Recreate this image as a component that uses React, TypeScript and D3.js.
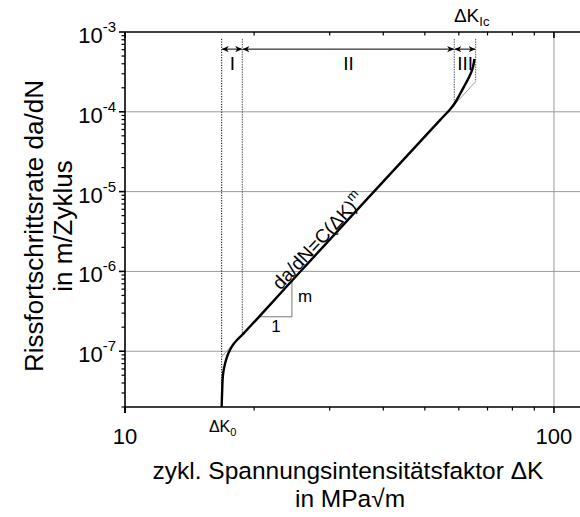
import React from 'react';
import * as d3 from 'd3';

const W = 580;
const H = 517;
const FONT = '"Liberation Sans", Arial, Helvetica, sans-serif';

// axis domains
const kDomain: [number, number] = [10, 115];
const rateDomain: [number, number] = [2e-8, 1e-3];

// tick labels
const xMajorTicks = [10, 100];
const xMajorLabels = ['10', '100'];
const yMajorTicks = [1e-7, 1e-6, 1e-5, 1e-4, 1e-3];
const yExponents = ['-7', '-6', '-5', '-4', '-3'];
const xGridValues = [100];
const yGridValues = [1e-7, 1e-6, 1e-5, 1e-4];

// crack growth curve (ΔK in MPa√m, da/dN in m/cycle)
const curveK = [16.8, 16.85, 16.92, 17.1, 17.39, 17.77, 18.24, 18.84, 25.58, 54.24, 57.23, 58.78, 60.39, 62.0, 63.47, 64.63, 65.26];
const curveRate = [2.0e-8, 3.27e-8, 5.04e-8, 6.92e-8, 9.22e-8, 1.16e-7, 1.38e-7, 1.64e-7, 9.83e-7, 7.88e-5, 1.07e-4, 1.29e-4, 1.67e-4, 2.17e-4, 2.75e-4, 3.51e-4, 4.59e-4];

// Paris line (thin grey extension)
const parisK = [16.8, 65.69];
const parisRate = [8.55e-8, 2.39e-4];

// region boundaries
const boundK = [16.8, 18.77, 58.56, 65.69];
const boundBottom = [2e-8, 1.64e-7, 1.29e-4, 2.39e-4];
const boundTop = 8.2e-4;
const arrowRate = 6.1e-4;
const regionLabels = ['I', 'II', 'III'];
const regionLabelK = [17.8, 33.2, 62.1];
const regionLabelRate = 3.3e-4;

// slope triangle
const triK = [20.5, 24.5];
const triRate = [2.7e-7, 7.7e-7];
const triLabelM = { k: 26.3, rate: 4.1e-7 };
const triLabel1 = { k: 22.5, rate: 1.75e-7 };

// Paris law label anchor
const parisLabelK = 23.3;
const parisLabelRate = 5.4e-7;

export default function App() {
  const x = d3.scaleLog().domain(kDomain).range([125, 580]);
  const y = d3.scaleLog().domain(rateDomain).range([407, 32]);
  const x0 = 125, y0 = 407, yTop = 32, xRight = 580;

  const isPow10 = (v: number) => Math.abs(Math.log10(v) - Math.round(Math.log10(v))) < 1e-6;
  const xMinor = x.ticks().filter(v => v > 10 && v < 100 && !isPow10(v));
  const yMinor = y.ticks().filter(v => !isPow10(v));

  const pts: [number, number][] = curveK.map((k, i) => [x(k), y(curveRate[i])]);
  const line = d3.line().curve(d3.curveCatmullRom.alpha(0.5));
  const curvePath = line(pts) || '';

  const parisPts: [number, number][] = parisK.map((k, i) => [x(k), y(parisRate[i])]);
  const angle = Math.atan2(parisPts[1][1] - parisPts[0][1], parisPts[1][0] - parisPts[0][0]) * 180 / Math.PI;

  const ay = y(arrowRate);

  return (
    <svg width={W} height={H} style={{ position: 'absolute', left: 0, top: 0, background: '#fff' }} fontFamily={FONT}>
      <defs>
        <marker id="ah" viewBox="0 0 10 10" refX="9.5" refY="5" markerWidth="7" markerHeight="7" orient="auto-start-reverse" markerUnits="userSpaceOnUse">
          <path d="M0,0.5 L10,5 L0,9.5 L3,5 Z" fill="#000" />
        </marker>
      </defs>

      {/* grid */}
      {yGridValues.map(v => (
        <line key={'gy' + v} x1={x0} x2={xRight} y1={y(v)} y2={y(v)} stroke="#9a9a9a" strokeWidth={1} />
      ))}
      {xGridValues.map(v => (
        <line key={'gx' + v} x1={x(v)} x2={x(v)} y1={yTop} y2={y0} stroke="#9a9a9a" strokeWidth={1} />
      ))}

      {/* region boundary lines */}
      {boundK.map((k, i) => (
        <line key={'b' + i} x1={x(k)} x2={x(k)} y1={y(boundTop)} y2={y(boundBottom[i])}
          stroke={i === 0 ? '#000' : '#555'} strokeWidth={1} strokeDasharray={i === 0 ? '1.2,1.4' : '1.5,1'} />
      ))}

      {/* arrows */}
      {boundK.slice(0, 3).map((k, i) => (
        <line key={'a' + i} x1={x(k) + 0.5} x2={x(boundK[i + 1]) - 0.5} y1={ay} y2={ay} stroke="#000" strokeWidth={1}
          markerStart="url(#ah)" markerEnd="url(#ah)" />
      ))}
      {regionLabels.map((t, i) => (
        <text key={'rl' + i} x={x(regionLabelK[i])} y={y(regionLabelRate)} fontSize={19} textAnchor="middle">{t}</text>
      ))}

      {/* Paris line extension */}
      <line x1={parisPts[0][0]} y1={parisPts[0][1]} x2={parisPts[1][0]} y2={parisPts[1][1]} stroke="#999" strokeWidth={1} />

      {/* slope triangle */}
      <polyline points={`${x(triK[0])},${y(triRate[0])} ${x(triK[1])},${y(triRate[0])} ${x(triK[1])},${y(triRate[1])}`}
        fill="none" stroke="#777" strokeWidth={1} />
      <text x={x(triLabelM.k)} y={y(triLabelM.rate)} fontSize={17} textAnchor="middle">m</text>
      <text x={x(triLabel1.k)} y={y(triLabel1.rate)} fontSize={17} textAnchor="middle">1</text>

      {/* main curve */}
      <path d={curvePath} fill="none" stroke="#000" strokeWidth={2.4} strokeLinejoin="round" />

      {/* Paris law label */}
      <text transform={`translate(${x(parisLabelK)},${y(parisLabelRate)}) rotate(${angle}) translate(0,-2.8)`} fontSize={19}>
        da/dN=C(ΔK)<tspan dy={-8} fontSize={13}>m</tspan>
      </text>

      {/* axes */}
      <line x1={x0} x2={xRight} y1={y0} y2={y0} stroke="#000" strokeWidth={1.6} />
      <line x1={x0} x2={xRight} y1={yTop} y2={yTop} stroke="#000" strokeWidth={1.6} />
      <line x1={x0} x2={x0} y1={yTop} y2={y0 + 6} stroke="#000" strokeWidth={1.6} />

      {xMinor.map(v => (
        <g key={'xm' + v}>
          <line x1={x(v)} x2={x(v)} y1={y0} y2={y0 + 3.5} stroke="#000" strokeWidth={1.2} />
          <line x1={x(v)} x2={x(v)} y1={yTop} y2={yTop + 3.5} stroke="#000" strokeWidth={1.2} />
        </g>
      ))}
      {xMajorTicks.map((v, i) => (
        <g key={'xM' + v}>
          <line x1={x(v)} x2={x(v)} y1={y0} y2={y0 + 6} stroke="#000" strokeWidth={1.6} />
          <line x1={x(v)} x2={x(v)} y1={yTop} y2={yTop + 6} stroke="#000" strokeWidth={1.6} />
          <text x={x(v)} y={y0 + 37} fontSize={22} textAnchor="middle">{xMajorLabels[i]}</text>
        </g>
      ))}
      {yMinor.map(v => (
        <line key={'ym' + v} x1={x0 - 3.5} x2={x0} y1={y(v)} y2={y(v)} stroke="#000" strokeWidth={1.2} />
      ))}
      {yMajorTicks.map((v, i) => (
        <g key={'yM' + v}>
          <line x1={x0 - 6} x2={x0} y1={y(v)} y2={y(v)} stroke="#000" strokeWidth={1.6} />
          <text x={116} y={y(v) + 11} fontSize={22} textAnchor="end">
            10<tspan dy={-11} fontSize={15}>{yExponents[i]}</tspan>
          </text>
        </g>
      ))}

      {/* ΔK0 and ΔKIc labels */}
      <text x={x(boundK[0]) + 1} y={432} fontSize={16} textAnchor="middle">
        ΔK<tspan dy={4} fontSize={11}>0</tspan>
      </text>
      <text x={x(boundK[3]) - 4} y={22} fontSize={19} textAnchor="middle">
        ΔK<tspan dy={4} fontSize={13}>Ic</tspan>
      </text>

      {/* axis titles */}
      <text x={348} y={479} fontSize={24.5} textAnchor="middle">zykl. Spannungsintensitätsfaktor ΔK</text>
      <text x={350} y={507} fontSize={24.5} textAnchor="middle">in MPa√m</text>
      <text transform="translate(43,226) rotate(-90)" fontSize={26} textAnchor="middle">Rissfortschrittsrate da/dN</text>
      <text transform="translate(72,226) rotate(-90)" fontSize={26} textAnchor="middle">in m/Zyklus</text>
    </svg>
  );
}
